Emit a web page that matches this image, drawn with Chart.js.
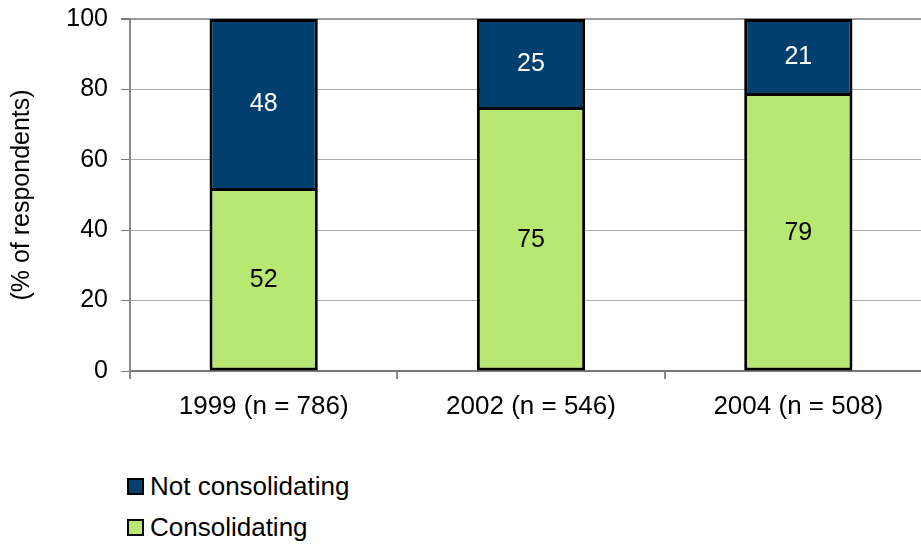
<!DOCTYPE html>
<html>
<head>
<meta charset="utf-8">
<script src="https://cdn.jsdelivr.net/npm/chart.js@4"></script>
<style>
  html, body { margin: 0; padding: 0; background: #fff; overflow: hidden; }
  body { width: 921px; height: 546px; position: relative; font-family: 'Liberation Sans', Arial, sans-serif; }
  #wrap { position: absolute; left: 0; top: 0; width: 932px; height: 450px; }
  .legend-item { position: absolute; left: 127px; height: 20px; display: flex; align-items: center; font-size: 26px; color: #000; white-space: nowrap; }
  .legend-box { width: 13px; height: 13px; border: 2px solid #000; margin-right: 6px; }
</style>
</head>
<body>
<div id="wrap"><canvas id="chart" width="932" height="450"></canvas></div>
<div class="legend-item" style="top:476px"><span class="legend-box" style="background:#003F6E"></span>Not consolidating</div>
<div class="legend-item" style="top:517px"><span class="legend-box" style="background:#B9E872"></span>Consolidating</div>

<script>
'use strict';

// ===== DATA =====
const categories = ['1999 (n = 786)', '2002 (n = 546)', '2004 (n = 508)'];
const consolidating = [52, 75, 79];
const notConsolidating = [48, 25, 21];
const yTicks = [0, 20, 40, 60, 80, 100];

const FONT = "'Liberation Sans', Arial, sans-serif";

// Value labels in the middle of each bar segment
const segmentLabels = {
  id: 'segmentLabels',
  afterDatasetsDraw(chart) {
    const ctx = chart.ctx;
    ctx.save();
    ctx.font = `25px ${FONT}`;
    ctx.textAlign = 'center';
    ctx.textBaseline = 'middle';
    chart.data.datasets.forEach((ds, i) => {
      const meta = chart.getDatasetMeta(i);
      meta.data.forEach((bar, j) => {
        ctx.fillStyle = ds.labelColor;
        ctx.fillText(ds.data[j], bar.x, (bar.y + bar.base) / 2 + 1);
      });
    });
    ctx.restore();
  }
};

new Chart(document.getElementById('chart'), {
  type: 'bar',
  data: {
    labels: categories,
    datasets: [
      {
        label: 'Consolidating',
        data: consolidating,
        backgroundColor: '#B9E872',
        borderColor: '#000',
        borderWidth: 3,
        borderSkipped: false,
        labelColor: '#000'
      },
      {
        label: 'Not consolidating',
        data: notConsolidating,
        backgroundColor: '#003F6E',
        borderColor: '#000',
        borderWidth: 3,
        borderSkipped: 'start',
        labelColor: '#fff'
      }
    ]
  },
  options: {
    responsive: false,
    animation: false,
    layout: { padding: { top: 19, left: 0, right: 0, bottom: 0 } },
    datasets: { bar: { categoryPercentage: 1, barPercentage: 0.405 } },
    plugins: {
      legend: { display: false },
      tooltip: { enabled: false }
    },
    scales: {
      x: {
        stacked: true,
        afterFit: scale => { scale.height = 79; scale.paddingLeft = 0; scale.paddingRight = 0; },
        grid: { drawOnChartArea: false, offset: true, tickLength: 8, color: '#888', lineWidth: 2 },
        border: { color: '#777', width: 2 },
        ticks: { color: '#000', font: { family: FONT, size: 26 }, padding: 12, maxRotation: 0 }
      },
      y: {
        stacked: true,
        min: 0,
        max: 100,
        afterFit: scale => { scale.width = 130; scale.paddingTop = 0; scale.paddingBottom = 0; },
        afterBuildTicks: scale => { scale.ticks = yTicks.map(v => ({ value: v })); },
        grid: {
          color: ctx => ctx.tick && ctx.tick.value === 100 ? '#999' : '#aaa',
          lineWidth: ctx => ctx.tick && ctx.tick.value === 100 ? 2 : 1,
          tickLength: 9,
          tickColor: '#777'
        },
        border: { color: '#888', width: 2 },
        ticks: { color: '#000', font: { family: FONT, size: 25 }, padding: 13 },
        title: {
          display: true,
          text: '(% of respondents)',
          color: '#000',
          font: { family: FONT, size: 25 },
          padding: { top: 7, bottom: 0 }
        }
      }
    }
  },
  plugins: [segmentLabels]
});
</script>
</body>
</html>
